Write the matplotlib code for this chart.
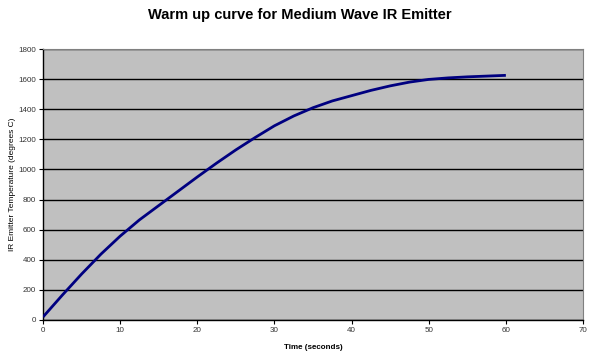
import matplotlib
matplotlib.use("Agg")
import matplotlib.pyplot as plt

plt.rcParams['font.family'] = ['Liberation Sans', 'DejaVu Sans']

time_s = [0, 2.5, 5, 7.5, 10, 12.5, 15, 17.5, 20, 22.5, 25, 27.5, 30,
          32.5, 35, 37.5, 40, 42.5, 45, 47.5, 50, 52.5, 55, 57.5, 60]
temp_c = [20, 165, 305, 437, 557, 665, 760, 855, 950, 1042, 1130, 1212, 1290,
          1355, 1410, 1455, 1490, 1525, 1555, 1580, 1598, 1608, 1615, 1620, 1625]
x_ticks = [0, 10, 20, 30, 40, 50, 60, 70]
y_ticks = [0, 200, 400, 600, 800, 1000, 1200, 1400, 1600, 1800]

fig = plt.figure(figsize=(6, 3.59), dpi=100)
ax = fig.add_axes([43/600, 39/359, 540/600, 271/359])
ax.set_facecolor('#c0c0c0')
ax.plot(time_s, temp_c, color='#000080', lw=2, solid_capstyle='butt', zorder=3)
ax.set_xlim(0, 70)
ax.set_ylim(0, 1800)
ax.set_xticks(x_ticks)
ax.set_yticks(y_ticks)
ax.yaxis.grid(True, color='black', lw=1)
ax.set_axisbelow(True)
for s in ['top', 'right']:
    ax.spines[s].set_color('#808080')
    ax.spines[s].set_linewidth(0.8)
for s in ['left', 'bottom']:
    ax.spines[s].set_color('black')
    ax.spines[s].set_linewidth(1)
ax.tick_params(axis='both', direction='out', length=3, width=0.8,
               labelsize=5.8, labelcolor='#333333', pad=2)
ax.set_xlabel('Time (seconds)', fontsize=5.8, fontweight='bold', labelpad=7)
ax.set_ylabel('IR Emitter Temperature (degrees C)', fontsize=6, labelpad=2)
fig.text(0.5, 1 - 15/359, 'Warm up curve for Medium Wave IR Emitter',
         ha='center', va='center', fontsize=10.5, fontweight='bold')
fig.savefig('out.png', dpi=100)
